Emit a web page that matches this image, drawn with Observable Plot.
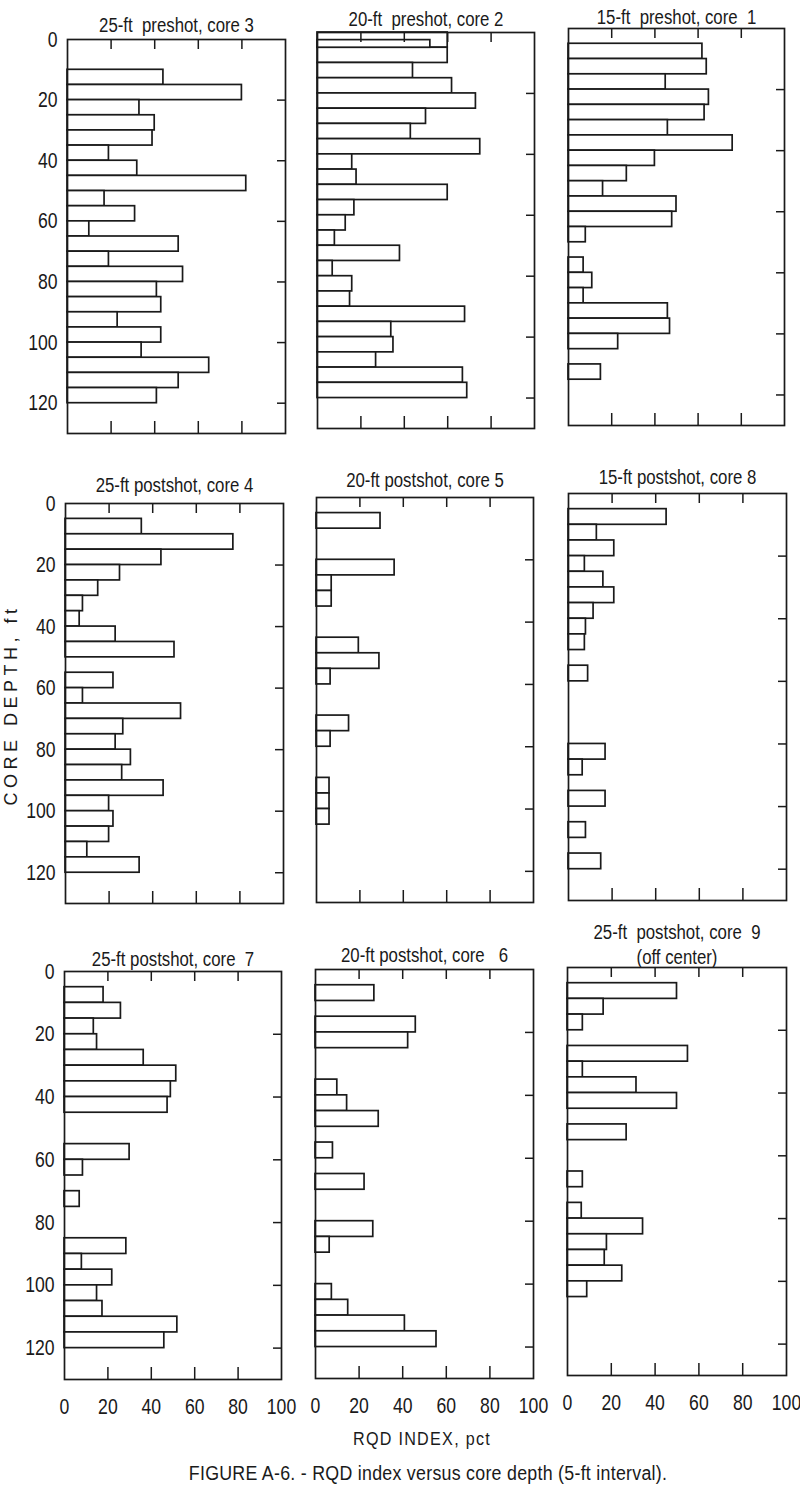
<!DOCTYPE html>
<html><head><meta charset="utf-8">
<script src="https://cdn.jsdelivr.net/npm/d3@7"></script>
<script src="https://cdn.jsdelivr.net/npm/@observablehq/plot@0.6"></script>
<style>
html,body{margin:0;padding:0;background:#fff;}
#root{position:relative;width:800px;height:1501px;overflow:hidden;color:#1a1a1a;
  font-family:'Liberation Sans',Arial,sans-serif;}
.panel{position:absolute;}
.lbl{position:absolute;white-space:nowrap;line-height:1;}
</style></head><body><div id="root"></div>
<script>
// 5-ft depth intervals (ft)
const depthTop    = [0,5,10,15,20,25,30,35,40,45,50,55,60,65,70,75,80,85,90,95,100,105,110,115];
const depthBottom = [5,10,15,20,25,30,35,40,45,50,55,60,65,70,75,80,85,90,95,100,105,110,115,120];
const xTicks  = [20,40,60,80];
const xLabels = [0,20,40,60,80,100];
const yTicks  = [20,40,60,80,100,120];
const yLabels = [0,20,40,60,80,100,120];

// RQD index, pct (null = no bar)
const core3 = [null,null,44,80,33,40,39,19,32,82,17,31,10,51,19,53,41,43,23,43,34,65,51,41];
const core2 = [60,60,44,62,73,50,43,75,16,18,60,17,13,8,38,7,16,15,68,34,35,27,67,69];
const core2Partial = [{top:2.5, bottom:5, rqd:52}];
const core1 = [null,62,64,45,65,63,46,76,40,27,16,50,48,8,null,7,11,7,46,47,23,null,15,null];
const core4 = [null,35,77,44,25,15,8,6.5,23,50,null,22,8,53,26.5,23,30,26,45,20,22,20,10,34];
const core5 = [null,29.5,null,null,36,7,7,null,null,19.5,29,6.5,null,null,15,6.5,null,null,6,6,6,null,null,null];
const core8 = [null,45,13,21,7.5,16,21,11.5,8,7.5,null,9,null,null,null,null,17,6.5,null,17,null,8,null,15];
const core7 = [null,18,26,13.5,15,36.5,51.5,49,47.5,null,null,30,8.5,null,7,null,null,28.5,8,22,15,17.5,52,46];
const core6 = [null,27,null,46,42.5,null,null,10,14.5,29,null,8,null,22.5,null,null,26.5,6.5,null,null,7.5,15,41,55.5];
const core9 = [null,50,16.5,7,null,55,7,31.5,50,null,27,null,null,7,null,6.5,34.5,18,17,25,9,null,null,null];

const panels = [
  {title:"25-ft  preshot, core 3", values:core3, box:[67,39,218,394], tOff:16, yAxis:true},
  {title:"20-ft  preshot, core 2", values:core2, extra:core2Partial, box:[317,32,217,396], tOff:15},
  {title:"15-ft  preshot, core  1", values:core1, box:[568,28,216,397], tOff:13},
  {title:"25-ft postshot, core 4", values:core4, box:[65,503,218,400], tOff:20, yAxis:true},
  {title:"20-ft postshot, core 5", values:core5, box:[316,497,217,405], tOff:19},
  {title:"15-ft postshot, core 8", values:core8, box:[568,493,218,407], tOff:18},
  {title:"25-ft postshot, core  7", values:core7, box:[64,971,217,408], tOff:14, yAxis:true, xAxis:true},
  {title:"20-ft postshot, core   6", values:core6, box:[315,969,218,409], tOff:16, xAxis:true},
  {title:"25-ft  postshot, core  9\n(off center)", values:core9, box:[567,967,219,408], tOff:12, xAxis:true}
];

const ink = "#1a1a1a";
const font = "'Liberation Sans',Arial,sans-serif";
const root = document.getElementById("root");
const mL = 60, mR = 6, mT = 60, mB = 45;

function narrow(svg, k) {
  svg.querySelectorAll("text").forEach(t => {
    const tr = t.getAttribute("transform");
    if (tr) t.setAttribute("transform", tr + ` scale(${k},1)`);
    else {
      const x = +(t.getAttribute("x") || 0), y = +(t.getAttribute("y") || 0);
      t.removeAttribute("x"); t.removeAttribute("y");
      t.setAttribute("transform", `translate(${x},${y}) scale(${k},1)`);
    }
  });
}

for (const p of panels) {
  const [left, top, w, h] = p.box;
  const data = depthTop.map((t, i) => ({top: t, bottom: depthBottom[i], rqd: p.values[i]}))
    .filter(d => d.rqd != null).concat(p.extra || []);
  const marks = [
    Plot.rect(data, {x1: () => 0, x2: "rqd", y1: "top", y2: "bottom", fill: "white", stroke: ink, strokeWidth: 1.7}),
    Plot.frame({stroke: ink, strokeWidth: 1.7}),
    Plot.tickX(xTicks, {x: d => d, insetBottom: h - 10, stroke: ink, strokeWidth: 1.5}),
    Plot.tickX(xTicks, {x: d => d, insetTop: h - 12, stroke: ink, strokeWidth: 1.5}),
    Plot.tickY(yTicks, {y: d => d, insetLeft: w - 8, stroke: ink, strokeWidth: 1.5}),
    Plot.text([p.title], {frameAnchor: "top", lineAnchor: "bottom", dy: -(p.tOff - 8), fontSize: 21, lineHeight: 1.15, fill: ink, letterSpacing: 1.5})
  ];
  if (p.yAxis) marks.push(Plot.axisY(yLabels, {anchor: "left", tickSize: 0, tickPadding: 10, fontSize: 22, label: null, fill: ink}));
  if (p.xAxis) marks.push(Plot.axisX(xLabels, {anchor: "bottom", tickSize: 0, tickPadding: 19, fontSize: 22, label: null, fill: ink}));
  const svg = Plot.plot({
    width: w + mL + mR, height: h + mT + mB,
    marginLeft: mL, marginRight: mR, marginTop: mT, marginBottom: mB,
    x: {domain: [0, 100], axis: null},
    y: {domain: [0, 130], reverse: true, axis: null},
    style: {background: "none", fontFamily: font, color: ink, overflow: "visible"},
    marks
  });
  narrow(svg, 0.8);
  svg.classList.add("panel");
  svg.style.left = (left - mL) + "px";
  svg.style.top = (top - mT) + "px";
  svg.style.maxWidth = "none";
  root.appendChild(svg);
}

function label(text, x, y, css, extra) {
  const d = document.createElement("div");
  d.className = "lbl";
  d.textContent = text;
  d.style.left = x + "px";
  d.style.top = y + "px";
  d.style.transform = "translate(-50%,-50%) " + (extra || "");
  Object.assign(d.style, css);
  root.appendChild(d);
}
label("CORE DEPTH, ft", 11, 705, {fontSize: "18px", letterSpacing: "4.5px"}, "rotate(-90deg)");
label("RQD INDEX, pct", 422, 1438, {fontSize: "19px", letterSpacing: "1.5px"}, "scaleX(0.85)");
label("FIGURE A-6. - RQD index versus core depth (5-ft interval).", 428, 1473, {fontSize: "20px", letterSpacing: "0.3px"}, "scaleX(0.89)");
</script></body></html>
